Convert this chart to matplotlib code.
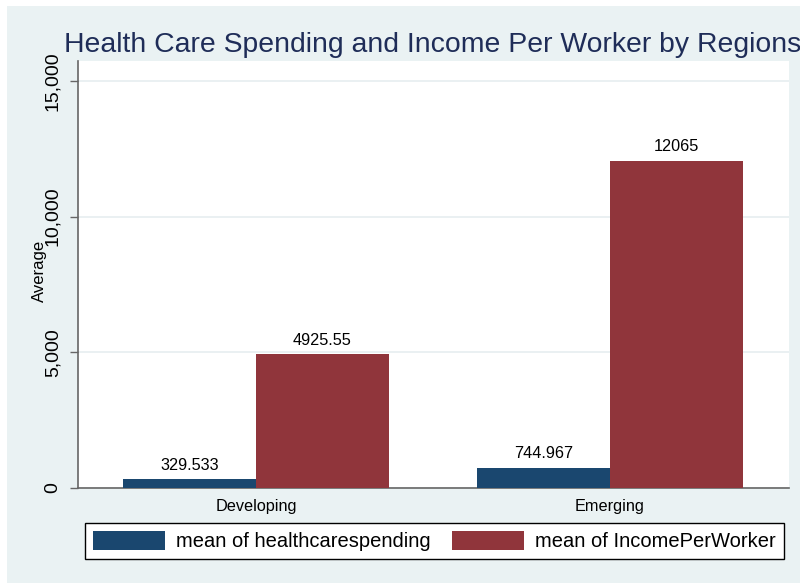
import matplotlib
matplotlib.use("Agg")
import matplotlib.pyplot as plt
from matplotlib.patches import Rectangle
import numpy as np

plt.rcParams['font.family'] = ['Liberation Sans', 'DejaVu Sans']

categories = ['Developing', 'Emerging']
health_spending = [329.533, 744.967]
income_per_worker = [4925.55, 12065]
series_labels = ['mean of healthcarespending', 'mean of IncomePerWorker']
yticks = [0, 5000, 10000, 15000]
ytick_labels = ['0', '5,000', '10,000', '15,000']
title = 'Health Care Spending and Income Per Worker by Regions'

W, H = 800, 583
fig = plt.figure(figsize=(W / 100, H / 100), dpi=100, facecolor='white')

bg = '#EAF2F3'
fig.patches.append(Rectangle((7 / W, 0), 1 - 7 / W, 1 - 6 / H, transform=fig.transFigure,
                             facecolor=bg, edgecolor='none', zorder=-10))

ax = fig.add_axes([78 / W, (H - 488) / H, 711 / W, 427 / H])
ax.set_facecolor('white')

x = np.arange(len(categories))
bw = 0.3757
b1 = ax.bar(x - bw / 2, health_spending, bw, color='#1A476F', label=series_labels[0], zorder=3)
b2 = ax.bar(x + bw / 2, income_per_worker, bw, color='#90353B', label=series_labels[1], zorder=3)

for bars, vals in ((b1, health_spending), (b2, income_per_worker)):
    for rect, v in zip(bars, vals):
        ax.annotate('%g' % v, (rect.get_x() + rect.get_width() / 2, rect.get_height()),
                    xytext=(0, 6.8), textcoords='offset points', ha='center', va='baseline',
                    fontsize=11.7, color='black', zorder=4)

ax.set_xlim(-0.503, 1.506)
ax.set_ylim(0, 15737)
ax.set_xticks(x)
ax.set_xticklabels(categories, fontsize=11.7)
ax.tick_params(axis='x', length=0, pad=8)
ax.set_yticks(yticks)
ax.set_yticklabels(ytick_labels, fontsize=14, rotation=90)
for lab in ax.get_yticklabels():
    lab.set_va('center')
ax.tick_params(axis='y', length=6, width=1, color='#666666', pad=6)

ax.grid(axis='y', color='#E6EEF0', linewidth=1.2, zorder=0)
ax.set_axisbelow(True)
for s in ('top', 'right'):
    ax.spines[s].set_visible(False)
for s in ('left', 'bottom'):
    ax.spines[s].set_color('#666666')
    ax.spines[s].set_linewidth(1.2)

ax.set_ylabel('Average', fontsize=12)
ax.yaxis.set_label_coords(-0.0436, 0.508)

fig.text(64 / W, (H - 52) / H, title, fontsize=20.4, color='#1F2D58', ha='left', va='baseline')

leg = fig.legend(handles=[b1, b2], labels=series_labels, loc='upper left',
                 bbox_to_anchor=(85 / W, (H - 523) / H), ncol=2, fontsize=14.5,
                 frameon=True, fancybox=False, edgecolor='black', facecolor='white',
                 handlelength=3.58, handleheight=1.04, handletextpad=0.55,
                 columnspacing=1.04, borderpad=0.4, borderaxespad=0)
leg.get_frame().set_linewidth(1.0)
leg.get_frame().set_alpha(1)

fig.savefig('out.png', dpi=100, facecolor=fig.get_facecolor())
